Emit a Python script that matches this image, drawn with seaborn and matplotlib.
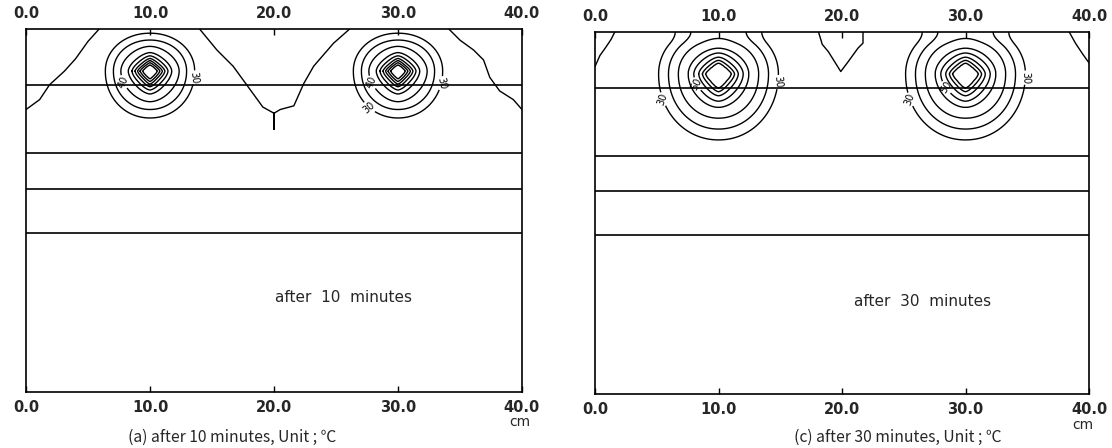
import numpy as np
import matplotlib
matplotlib.use("Agg")
import matplotlib.pyplot as plt
import seaborn as sns

# ---- slab geometry (cm) ----
width_cm = 40.0
depth_cm = 29.3
source_x = [10.0, 30.0]
source_depth = 3.4
layer_depths = [4.5, 10.0, 12.9, 16.45]

tick_values = [0, 10, 20, 30, 40]
tick_labels = ["0.0", "10.0", "20.0", "30.0", "40.0"]

# ---- isotherms around each heater: level (deg C) and half-width (cm) ----
levels_10 = [30, 35, 40, 45, 50, 55, 60, 65, 70]
radius_10 = [3.6, 2.95, 2.35, 1.75, 1.45, 1.2, 1.0, 0.8, 0.6]
levels_30 = [30, 35, 40, 45, 50, 55, 60, 65]
radius_30 = [4.85, 4.05, 3.25, 2.45, 2.0, 1.6, 1.3, 1.05]

# vertical stretch of the isotherms above / below the heater, and the depth
# above the heater from which the isotherms bend towards the surface
up_scale_10, down_scale_10, bend_from_10 = 0.85, 1.05, 3.4
up_scale_30, down_scale_30, bend_from_30 = 0.85, 1.10, 2.4

# ---- cool surface isotherm, traced as (x, depth) pieces ----
cool_10_left_x = [0.0, 1.1, 1.9, 3.1, 4.0, 5.0, 5.9]
cool_10_left_d = [6.5, 5.7, 4.5, 3.4, 2.4, 1.0, 0.0]
cool_10_mid_x = [14.0, 15.4, 16.7, 17.9, 19.1, 20.0, 20.0, 20.0, 20.5, 21.6, 22.4, 23.2, 24.8, 26.1]
cool_10_mid_d = [0.0, 1.7, 3.0, 4.65, 6.3, 6.8, 8.1, 6.8, 6.5, 6.2, 4.4, 3.0, 1.15, 0.0]
cool_10_right_x = [34.1, 35.0, 36.1, 36.9, 37.4, 38.2, 39.3, 40.0]
cool_10_right_d = [0.0, 0.9, 1.7, 2.5, 3.9, 5.0, 5.7, 6.5]

cool_30_left_x = [0.0, 0.4, 0.9, 1.3, 1.6]
cool_30_left_d = [2.8, 1.9, 1.2, 0.6, 0.0]
cool_30_mid_x = [18.1, 18.4, 18.9, 19.9, 20.5, 21.3, 21.7, 21.7]
cool_30_mid_d = [0.0, 1.0, 1.6, 3.2, 2.4, 1.3, 0.9, 0.0]
cool_30_right_x = [38.4, 38.9, 39.5, 40.0]
cool_30_right_d = [0.0, 0.9, 1.8, 2.5]

sns.set_theme(style="white")
plt.rcParams["font.family"] = ["DejaVu Sans", "Noto Sans CJK KR"]


def heater_field(X, Y, levels, radii, su, sd, bend_from):
    """Temperature field whose isotherm `levels[k]` sits at half-width `radii[k]`."""
    r_knots = np.concatenate([[0.0], radii[::-1], [radii[0] + 3.0]])
    t_knots = np.concatenate([[levels[-1] + 3.0], levels[::-1], [10.0]])
    span = max(source_depth - bend_from, 1e-6)
    T = np.full(X.shape, -np.inf)
    for sx in source_x:
        dx = X - sx
        dy = Y - source_depth
        s = np.abs(dy)
        # above the heater the isotherms turn to meet the surface at right angles
        excess = np.clip(s - bend_from, 0, None)
        s_up = s - excess ** 2 / (2 * span)
        v = np.where(dy < 0, s_up / su, s / sd)
        r2 = np.hypot(dx, v)
        p = np.interp(r2, [0.8, 1.6, 3.0], [1.2, 1.55, 2.05])
        r = (np.abs(dx) ** p + np.abs(v) ** p) ** (1.0 / p)
        T = np.maximum(T, np.interp(r, r_knots, t_knots))
    return T


gx = np.linspace(0, width_cm, 801)
gy = np.linspace(0, depth_cm, 587)
X, Y = np.meshgrid(gx, gy)

fig = plt.figure(figsize=(11.12, 4.48), dpi=100)
ax_a = fig.add_axes([26 / 1112, 1 - 392 / 448, 496 / 1112, 363 / 448])
ax_c = fig.add_axes([595 / 1112, 1 - 394 / 448, 494 / 1112, 362 / 448])

panels = [
    (ax_a, levels_10, radius_10, up_scale_10, down_scale_10, bend_from_10,
     [(cool_10_left_x, cool_10_left_d), (cool_10_mid_x, cool_10_mid_d), (cool_10_right_x, cool_10_right_d)],
     [(7.8, 4.3), (13.5, 3.9), (27.9, 4.3), (27.7, 6.3), (33.4, 4.35)],
     "after  10  minutes", (25.6, 21.7)),
    (ax_c, levels_30, radius_30, up_scale_30, down_scale_30, bend_from_30,
     [(cool_30_left_x, cool_30_left_d), (cool_30_mid_x, cool_30_mid_d), (cool_30_right_x, cool_30_right_d)],
     [(5.3, 5.5), (8.1, 4.3), (14.8, 4.05), (25.4, 5.5), (28.4, 4.5), (35.0, 3.7)],
     "after  30  minutes", (26.5, 21.8)),
]

for ax, levels, radii, su, sd, bend, cool_parts, label_pos, note, note_xy in panels:
    T = heater_field(X, Y, np.array(levels, float), np.array(radii, float), su, sd, bend)
    cs = ax.contour(X, Y, T, levels=levels, colors="black", linewidths=1.0)
    ax.clabel(cs, manual=label_pos, fmt="%d", fontsize=7, inline=True, inline_spacing=1)

    for xs, ds in cool_parts:
        sns.lineplot(x=xs, y=ds, sort=False, estimator=None, color="black",
                     linewidth=1.0, ax=ax)

    for d in layer_depths:
        ax.axhline(d, color="black", linewidth=1.2)

    ax.text(note_xy[0], note_xy[1], note, ha="center", va="center", fontsize=11)

    ax.set_xlim(0, width_cm)
    ax.set_ylim(depth_cm, 0)
    ax.set_xticks(tick_values)
    ax.set_xticklabels(tick_labels, fontsize=10.5, fontweight="bold")
    ax.set_yticks([])
    ax.tick_params(axis="x", direction="in", top=True, bottom=True,
                   labeltop=True, labelbottom=True, length=4, width=1.0,
                   color="black", pad=6)
    for s in ax.spines.values():
        s.set_color("black")
        s.set_linewidth(1.2)
    ax.set_xlabel("")
    ax.set_ylabel("")

fig.text(520 / 1112, 1 - 422 / 448, "cm", ha="center", va="center", fontsize=10)
fig.text(1083 / 1112, 1 - 425 / 448, "cm", ha="center", va="center", fontsize=10)

cap_font = ["Noto Sans CJK KR", "DejaVu Sans"]
fig.text(232 / 1112, 1 - 437 / 448, "(a) after 10 minutes, Unit ; \u2103",
         ha="center", va="center", fontsize=11.3, family=cap_font)
fig.text(898 / 1112, 1 - 437 / 448, "(c) after 30 minutes, Unit ; \u2103",
         ha="center", va="center", fontsize=11.3, family=cap_font)

fig.savefig("out.png", dpi=100, facecolor="white")
